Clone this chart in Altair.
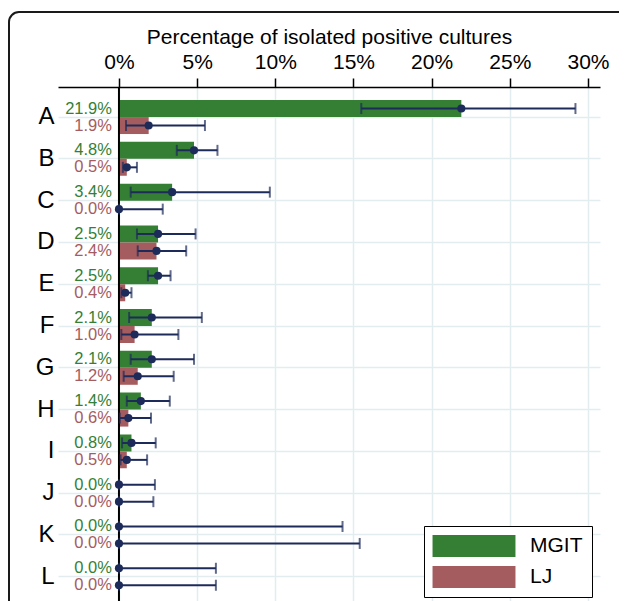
import altair as alt
import pandas as pd

categories = list("ABCDEFGHIJKL")
series = ["MGIT", "LJ"]
mgit_pct = [21.9, 4.8, 3.4, 2.5, 2.5, 2.1, 2.1, 1.4, 0.8, 0.0, 0.0, 0.0]
lj_pct = [1.9, 0.5, 0.0, 2.4, 0.4, 1.0, 1.2, 0.6, 0.5, 0.0, 0.0, 0.0]
mgit_lo = [15.5, 3.7, 0.75, 1.15, 1.85, 0.65, 0.75, 0.5, 0.2, 0.0, 0.0, 0.0]
mgit_hi = [29.2, 6.3, 9.65, 4.9, 3.3, 5.3, 4.8, 3.25, 2.35, 2.3, 14.3, 6.2]
lj_lo = [0.45, 0.25, 0.0, 1.2, 0.15, 0.15, 0.3, 0.05, 0.1, 0.0, 0.0, 0.0]
lj_hi = [5.5, 1.15, 2.8, 4.3, 0.8, 3.8, 3.5, 2.05, 1.8, 2.2, 15.4, 6.2]
tick_values = [0, 5, 10, 15, 20, 25, 30]
colors = ["#357f35", "#a55c5f"]
navy = "#1c2b5a"
grid_color = "#e3edf0"
FONT = "Liberation Sans"

rows = []
for i, c in enumerate(categories):
    rows.append({"cat": c, "series": "MGIT", "value": mgit_pct[i], "lo": mgit_lo[i], "hi": mgit_hi[i],
                 "label": f"{mgit_pct[i]:.1f}%"})
    rows.append({"cat": c, "series": "LJ", "value": lj_pct[i], "lo": lj_lo[i], "hi": lj_hi[i],
                 "label": f"{lj_pct[i]:.1f}%"})
df = pd.DataFrame(rows)

y_enc = alt.Y("cat:N", sort=categories,
              scale=alt.Scale(paddingInner=0.187, paddingOuter=0.243, align=0.643),
              axis=alt.Axis(title=None, domain=False, ticks=False, labelFontSize=24,
                            labelColor="black", labelPadding=4, grid=True,
                            gridColor=grid_color, gridWidth=1.5))
yoff = alt.YOffset("series:N", sort=series, scale=alt.Scale(paddingInner=0, paddingOuter=0))
x_scale = alt.Scale(domain=[-3.9, 30.77], nice=False, zero=False)
color_enc = alt.Color("series:N", sort=series,
                      scale=alt.Scale(domain=series, range=colors),
                      legend=alt.Legend(title=None, orient="none", legendX=366, legendY=439,
                                        strokeColor="black", fillColor="white", padding=9,
                                        symbolType="M-3.77,-1H3.77V1H-3.77Z", symbolSize=484,
                                        symbolStrokeWidth=0, symbolOffset=30,
                                        labelFontSize=21, labelColor="black",
                                        labelOffset=45, rowPadding=9))

base = alt.Chart(df)

frame = alt.Chart(pd.DataFrame({"f": [0]})).mark_rect(
    filled=False, stroke="#1a1a1a", strokeWidth=2, cornerRadius=10
).encode(x=alt.value(-49), x2=alt.value(700), y=alt.value(-75), y2=alt.value(700))

bars = base.mark_bar().encode(
    x=alt.X("value:Q", scale=x_scale,
            axis=alt.Axis(orient="top", values=tick_values, labelExpr="datum.value + '%'",
                          title="Percentage of isolated positive cultures",
                          titleFontSize=21, titleFontWeight="normal", titleColor="black",
                          titlePadding=4, labelFontSize=21, labelColor="black", labelPadding=6,
                          tickSize=9, tickColor="black", tickWidth=1.5,
                          domainColor="black", domainWidth=1.5,
                          grid=True, gridColor=grid_color, gridWidth=1.5)),
    x2=alt.datum(0),
    y=y_enc, yOffset=yoff, color=color_enc,
)

zero_rule = alt.Chart(pd.DataFrame({"z": [0]})).mark_rule(color="black", strokeWidth=2).encode(
    x=alt.X("z:Q", scale=x_scale)
)

err = base.mark_rule(color=navy, strokeWidth=2).encode(
    x=alt.X("lo:Q", scale=x_scale), x2="hi:Q", y=y_enc, yOffset=yoff
)
cap_lo = base.mark_tick(color=navy, size=11, thickness=2).encode(
    x=alt.X("lo:Q", scale=x_scale), y=y_enc, yOffset=yoff
)
cap_hi = base.mark_tick(color=navy, size=11, thickness=2).encode(
    x=alt.X("hi:Q", scale=x_scale), y=y_enc, yOffset=yoff
)
dots = base.mark_circle(color=navy, size=66, opacity=1).encode(
    x=alt.X("value:Q", scale=x_scale), y=y_enc, yOffset=yoff
)
labels = base.mark_text(align="right", baseline="middle", dx=-7, fontSize=16.5).encode(
    x=alt.datum(0), y=y_enc, yOffset=yoff, text="label:N",
    color=alt.Color("series:N", sort=series, scale=alt.Scale(domain=series, range=colors), legend=None)
)

chart = alt.layer(frame, bars, zero_rule, err, cap_lo, cap_hi, dots, labels).properties(
    width=542, height=514,
    autosize=alt.AutoSizeParams(type="none"),
    padding={"left": 50, "top": 79, "right": 19, "bottom": 0},
).configure(font=FONT).configure_view(strokeWidth=0)

chart.save("out.html", embed_options={"renderer": "svg", "actions": False})
